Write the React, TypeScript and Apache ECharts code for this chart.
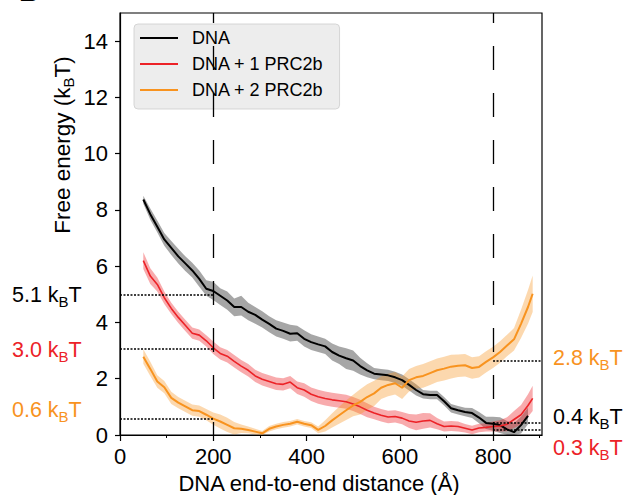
import React, { useEffect, useRef } from 'react';
import * as echarts from 'echarts';

const DIST = [50, 65, 80, 95, 110, 125, 140, 155, 170, 185, 200, 215, 230, 245, 260, 275, 290, 305, 320, 335, 350, 365, 380, 395, 410, 425, 440, 455, 470, 485, 500, 515, 530, 545, 560, 575, 590, 605, 620, 635, 650, 665, 680, 695, 710, 725, 740, 755, 770, 785, 800, 815, 830, 845, 860, 875, 885];

const DNA = [8.37, 7.85, 7.4, 6.95, 6.65, 6.35, 6.1, 5.85, 5.55, 5.2, 5.12, 4.95, 4.78, 4.55, 4.55, 4.38, 4.27, 4.1, 3.95, 3.78, 3.7, 3.6, 3.62, 3.42, 3.3, 3.22, 3.15, 2.95, 2.82, 2.73, 2.65, 2.45, 2.3, 2.18, 2.15, 2.12, 2.05, 1.95, 1.78, 1.6, 1.45, 1.42, 1.42, 1.2, 0.95, 0.88, 0.82, 0.78, 0.62, 0.43, 0.4, 0.35, 0.2, 0.1, 0.35, 0.68, null];
const DNA_LO = [8.22, 7.65, 7.2, 6.73, 6.4, 6.1, 5.83, 5.6, 5.27, 4.95, 4.8, 4.62, 4.45, 4.22, 4.25, 4.08, 3.95, 3.82, 3.65, 3.5, 3.42, 3.32, 3.35, 3.15, 3.02, 2.95, 2.88, 2.65, 2.52, 2.35, 2.28, 2.15, 2.05, 1.98, 1.95, 1.92, 1.85, 1.75, 1.58, 1.4, 1.3, 1.27, 1.27, 1.05, 0.8, 0.73, 0.67, 0.6, 0.42, 0.21, 0.15, 0.07, 0.0, 0.0, 0.05, 0.38, null];
const DNA_HI = [8.5, 8.05, 7.62, 7.18, 6.9, 6.62, 6.35, 6.12, 5.85, 5.5, 5.45, 5.22, 5.1, 4.85, 4.95, 4.7, 4.55, 4.4, 4.22, 4.08, 4.0, 3.92, 3.88, 3.72, 3.58, 3.5, 3.42, 3.25, 3.15, 3.08, 3.0, 2.75, 2.55, 2.38, 2.35, 2.32, 2.25, 2.15, 1.98, 1.8, 1.6, 1.57, 1.57, 1.35, 1.1, 1.03, 0.97, 0.96, 0.82, 0.65, 0.65, 0.63, 0.5, 0.42, 0.65, 0.98, null];

const ONE = [6.2, 5.65, 5.35, 4.88, 4.5, 4.18, 3.9, 3.62, 3.55, 3.35, 3.1, 2.9, 2.8, 2.62, 2.45, 2.3, 2.1, 1.98, 1.9, 1.82, 1.8, 1.88, 1.68, 1.6, 1.45, 1.36, 1.3, 1.25, 1.22, 1.18, 1.1, 1.0, 0.88, 0.78, 0.7, 0.64, 0.66, 0.6, 0.5, 0.45, 0.5, 0.52, 0.4, 0.3, 0.32, 0.3, 0.24, 0.18, 0.25, 0.27, 0.3, 0.32, 0.38, 0.55, 0.72, 1.05, 1.3];
const ONE_LO = [5.9, 5.37, 5.1, 4.66, 4.3, 3.98, 3.7, 3.42, 3.35, 3.15, 2.88, 2.68, 2.58, 2.4, 2.23, 2.08, 1.88, 1.76, 1.68, 1.6, 1.58, 1.66, 1.46, 1.36, 1.21, 1.11, 1.05, 1.0, 0.97, 0.93, 0.85, 0.75, 0.63, 0.56, 0.48, 0.42, 0.44, 0.38, 0.25, 0.17, 0.22, 0.27, 0.2, 0.12, 0.14, 0.12, 0.09, 0.03, 0.1, 0.12, 0.12, 0.12, 0.13, 0.25, 0.37, 0.65, 0.85];
const ONE_HI = [6.5, 5.93, 5.6, 5.1, 4.7, 4.38, 4.1, 3.82, 3.75, 3.55, 3.32, 3.12, 3.02, 2.84, 2.67, 2.52, 2.32, 2.2, 2.12, 2.04, 2.02, 2.1, 1.9, 1.84, 1.69, 1.61, 1.55, 1.5, 1.47, 1.43, 1.35, 1.25, 1.13, 1.0, 0.92, 0.86, 0.88, 0.82, 0.75, 0.73, 0.78, 0.77, 0.6, 0.48, 0.5, 0.48, 0.39, 0.33, 0.4, 0.42, 0.48, 0.52, 0.63, 0.85, 1.07, 1.45, 1.75];

const TWO = [2.78, 2.35, 1.9, 1.7, 1.32, 1.15, 1.02, 0.88, 0.85, 0.72, 0.58, 0.48, 0.36, 0.24, 0.22, 0.18, 0.12, 0.06, 0.22, 0.3, 0.36, 0.4, 0.47, 0.4, 0.35, 0.18, 0.32, 0.52, 0.7, 0.88, 1.05, 1.18, 1.35, 1.48, 1.68, 1.78, 1.84, 1.68, 1.95, 2.05, 2.1, 2.2, 2.3, 2.36, 2.43, 2.46, 2.48, 2.38, 2.42, 2.6, 2.76, 2.95, 3.18, 3.4, 3.95, 4.55, 5.02];
const TWO_LO = [2.53, 2.1, 1.68, 1.48, 1.1, 0.95, 0.82, 0.68, 0.65, 0.52, 0.36, 0.23, 0.11, 0.02, 0.07, 0.06, 0.02, 0.0, 0.12, 0.2, 0.26, 0.3, 0.37, 0.3, 0.25, 0.06, 0.12, 0.27, 0.4, 0.53, 0.67, 0.73, 0.9, 1.03, 1.28, 1.38, 1.44, 1.28, 1.55, 1.65, 1.68, 1.78, 1.88, 1.94, 2.01, 2.06, 2.08, 2.0, 2.04, 2.22, 2.38, 2.57, 2.8, 3.0, 3.45, 3.95, 4.37];
const TWO_HI = [3.05, 2.6, 2.12, 1.92, 1.54, 1.35, 1.22, 1.08, 1.05, 0.92, 0.8, 0.73, 0.61, 0.46, 0.37, 0.3, 0.22, 0.14, 0.32, 0.4, 0.46, 0.5, 0.57, 0.5, 0.45, 0.3, 0.52, 0.77, 1.0, 1.23, 1.43, 1.63, 1.8, 1.93, 2.08, 2.18, 2.24, 2.08, 2.35, 2.45, 2.52, 2.62, 2.72, 2.78, 2.85, 2.86, 2.88, 2.76, 2.8, 2.98, 3.14, 3.33, 3.56, 3.8, 4.45, 5.15, 5.67];

const SERIES_NAMES = ['DNA', 'DNA + 1 PRC2b', 'DNA + 2 PRC2b'];
const X_TICKS = [0, 200, 400, 600, 800];
const X_MINOR_TICKS = [100, 300, 500, 700, 900];
const Y_TICKS = [0, 2, 4, 6, 8, 10, 12, 14];
const MARK_X = [200, 800];
const LEFT_LEVELS = [4.97, 3.07, 0.57];
const RIGHT_LEVELS = [0.44, 0.2, 2.65];
const LEFT_LABELS = ['5.1', '3.0', '0.6'];
const RIGHT_LABELS = ['0.4', '0.3', '2.8'];
const X_MAX = 905;
const Y_MAX = 15;

const FONT = "'Liberation Sans', Arial, Helvetica, sans-serif";
const COLORS = ['#000000', '#ec2227', '#f8931f'];
const BAND_COLORS = ['rgba(0,0,0,0.35)', 'rgba(236,34,39,0.38)', 'rgba(248,147,31,0.36)'];

function bandSeries(name: string, lo: (number | null)[], hi: (number | null)[], color: string) {
  return {
    type: 'custom',
    name,
    z: 1,
    silent: true,
    clip: true,
    data: DIST.map((x, i) => [x, lo[i], hi[i]]),
    encode: { x: 0, y: [1, 2] },
    renderItem: (params: any, api: any) => {
      if (params.dataIndex !== 0) return null;
      const top: number[][] = [];
      const bot: number[][] = [];
      DIST.forEach((x, i) => {
        if (lo[i] == null || hi[i] == null) return;
        top.push(api.coord([x, hi[i]]));
        bot.push(api.coord([x, lo[i]]));
      });
      return {
        type: 'polygon',
        shape: { points: top.concat(bot.reverse()) },
        style: { fill: color },
      };
    },
  };
}

const SUB = { fontSize: 15, fontFamily: FONT, padding: [12, 0, 0, 0] };

function annot(value: string, color: string, x: number, y: number) {
  return {
    type: 'text',
    x,
    y,
    z: 20,
    style: {
      text: value + ' k{s|B}T',
      fill: color,
      fontSize: 21.5,
      fontFamily: FONT,
      align: 'left',
      verticalAlign: 'middle',
      rich: { s: { ...SUB, fill: color } },
    },
  };
}

export default function App() {
  const ref = useRef<HTMLDivElement>(null);
  useEffect(() => {
    if (!ref.current) return;
    const chart = echarts.init(ref.current, undefined, { renderer: 'svg' });
    const lines = [DNA, ONE, TWO];
    const bands = [
      [DNA_LO, DNA_HI],
      [ONE_LO, ONE_HI],
      [TWO_LO, TWO_HI],
    ];
    const dotted = { type: [2, 1.5], color: '#000', width: 1.6 };
    const markData: any[] = [
      ...MARK_X.map((v) => ({ xAxis: v, lineStyle: { type: [24, 23], dashOffset: 11, color: '#000', width: 1.3 } })),
      ...LEFT_LEVELS.map((v) => [{ coord: [0, v], lineStyle: dotted }, { coord: [MARK_X[0], v] }]),
      ...RIGHT_LEVELS.map((v) => [{ coord: [MARK_X[1], v], lineStyle: dotted }, { coord: [X_MAX, v] }]),
    ];
    const series: any[] = [];
    bands.forEach((b, i) => series.push(bandSeries(SERIES_NAMES[i] + ' band', b[0], b[1], BAND_COLORS[i])));
    lines.forEach((vals, i) => {
      series.push({
        type: 'line',
        name: SERIES_NAMES[i],
        data: DIST.map((x, j) => [x, vals[j]]),
        symbol: 'none',
        showSymbol: false,
        z: 3,
        lineStyle: { color: COLORS[i], width: i === 1 ? 1.6 : 2 },
        itemStyle: { color: COLORS[i] },
        markLine:
          i === 0
            ? { silent: true, symbol: ['none', 'none'], label: { show: false }, animation: false, data: markData }
            : undefined,
      });
    });

    const option: any = {
      animation: false,
      textStyle: { fontFamily: FONT },
      grid: { left: 120, top: 13, right: 87, bottom: 60, show: true, borderColor: '#000', borderWidth: 1.2 },
      xAxis: [
        {
          type: 'value',
          min: 0,
          max: X_MAX,
          axisLine: { show: true, lineStyle: { color: '#000', width: 1.2 } },
          axisTick: { show: true, length: 6, customValues: X_TICKS, lineStyle: { color: '#000', width: 1.2 } },
          axisLabel: { customValues: X_TICKS, color: '#000', fontSize: 22, margin: 10, fontFamily: FONT },
          splitLine: { show: false },
        },
        {
          type: 'value',
          min: 0,
          max: X_MAX,
          position: 'bottom',
          axisLine: { show: false },
          axisTick: { show: true, length: 3, customValues: X_MINOR_TICKS, lineStyle: { color: '#000', width: 1 } },
          axisLabel: { show: false },
          splitLine: { show: false },
        },
      ],
      yAxis: {
        type: 'value',
        min: 0,
        max: Y_MAX,
        axisLine: { show: true, lineStyle: { color: '#000', width: 1.2 } },
        axisTick: { show: true, length: 5, customValues: Y_TICKS, lineStyle: { color: '#000', width: 1.2 } },
        axisLabel: { customValues: Y_TICKS, color: '#000', fontSize: 22, margin: 12, fontFamily: FONT },
        splitLine: { show: false },
      },
      legend: {
        data: SERIES_NAMES.map((n) => ({ name: n, icon: 'rect' })),
        orient: 'vertical',
        left: 134,
        top: 24,
        padding: [5, 16, 10, 6],
        itemGap: 8,
        itemWidth: 38,
        itemHeight: 2,
        selectedMode: false,
        backgroundColor: 'rgba(232,232,232,0.8)',
        borderColor: 'rgba(205,205,205,0.8)',
        borderWidth: 1,
        borderRadius: 4,
        textStyle: { fontSize: 18, color: '#000', fontFamily: FONT, padding: [0, 0, 0, 9] },
      },
      graphic: [
        ...LEFT_LABELS.map((t, i) => annot(t, COLORS[i], 12, [295, 350, 410][i])),
        ...RIGHT_LABELS.map((t, i) => annot(t, COLORS[i], 553, [417, 448, 358][i])),
        {
          type: 'text',
          x: 62,
          y: 145,
          rotation: Math.PI / 2,
          style: {
            text: 'Free energy (k{s|B}T)',
            fill: '#000',
            fontSize: 22.5,
            fontFamily: FONT,
            align: 'center',
            verticalAlign: 'middle',
            rich: { s: { ...SUB, fill: '#000' } },
          },
        },
        {
          type: 'text',
          x: 319,
          y: 483,
          style: {
            text: 'DNA end-to-end distance (Å)',
            fill: '#000',
            fontSize: 22,
            fontFamily: FONT,
            align: 'center',
            verticalAlign: 'middle',
          },
        },
        {
          type: 'text',
          x: 19,
          y: 5,
          style: { text: 'B', fill: '#000', fontSize: 28, fontWeight: 'bold', fontFamily: FONT, align: 'left', verticalAlign: 'bottom' },
        },
      ],
      series,
    };
    chart.setOption(option);
    return () => chart.dispose();
  }, []);
  return <div ref={ref} style={{ width: 629, height: 495, position: 'absolute', left: 0, top: 0 }} />;
}
